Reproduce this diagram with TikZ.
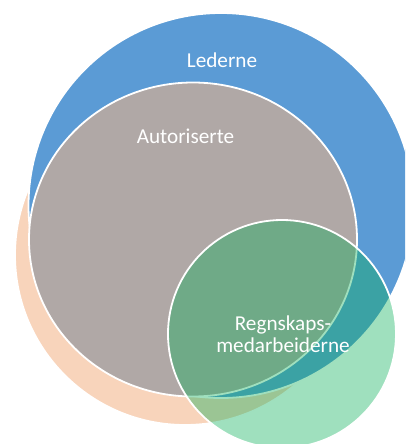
\documentclass[tikz,border=0pt]{standalone}
\usepackage{fontspec}
\setmainfont{Carlito}
\usepackage{tikz}
\definecolor{ledblue}{RGB}{91,155,213}
\definecolor{autgray}{RGB}{176,168,166}
\definecolor{peach}{RGB}{248,212,187}
\definecolor{regngreen}{RGB}{9,175,88}
\tikzset{venn/.style={draw=white, line width=1.8pt}}
\tikzset{vlabel/.style={text=white, font=\fontsize{21.2}{22}\selectfont, inner sep=0pt, align=center}}

\begin{document}
\begin{tikzpicture}[x=1pt, y=-1pt]
		\useasboundingbox (0,0) rectangle (405,444);
		\clip (0,0) rectangle (405,444);
		
		\path[venn, fill=peach] (185,255) circle[radius=170pt];
		\path[venn, fill=ledblue] (221,205.5) circle[radius=192.5pt];
		\path[venn, fill=autgray] (193,239.5) ellipse[x radius=164pt, y radius=157pt];
		\path[venn, fill=regngreen, fill opacity=0.39] (282,334) circle[radius=114pt];
		
		\node[vlabel, anchor=base] (lederne) at (222,67.7) {Lederne};
		\node[vlabel, anchor=base] (autoriserte) at (185.5,143.3) {Autoriserte};
		\node[vlabel] (regnskap) at (283,334) {Regnskaps-\\medarbeiderne};
	\end{tikzpicture}
\end{document}
